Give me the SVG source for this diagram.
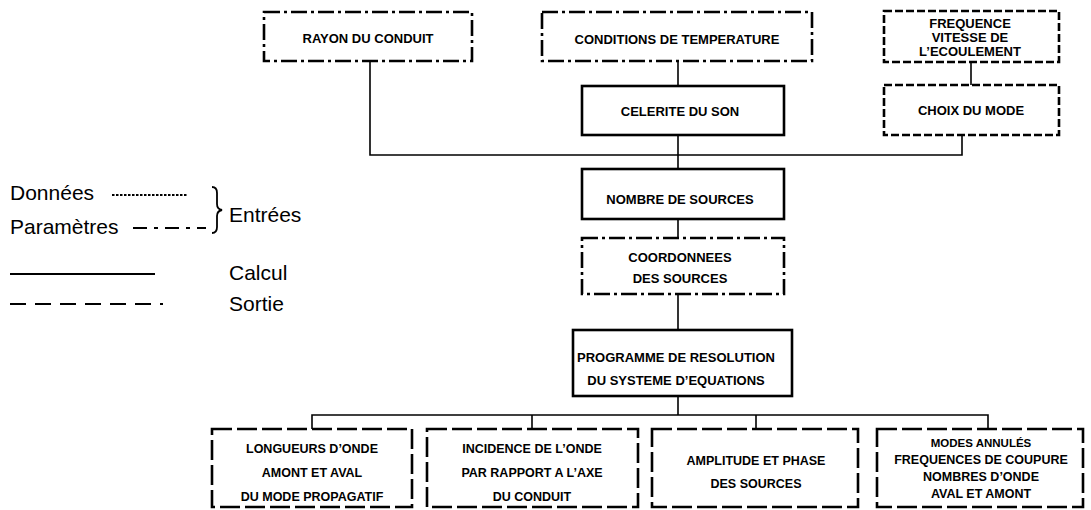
<svg xmlns="http://www.w3.org/2000/svg" width="1091" height="510" viewBox="0 0 1091 510">
<style>
.bg{fill:#ffffff}
.box{fill:#ffffff;stroke:#000;stroke-width:2.6}
.param{stroke-dasharray:16 4 3 4}
.data{stroke-dasharray:8 3}
.out{stroke-dasharray:20 5}
.conn{fill:none;stroke:#000;stroke-width:1.6}
.t{font-family:"Liberation Sans",Arial,sans-serif;font-weight:bold;font-size:13px;text-anchor:middle;fill:#000}
.ts{font-size:12.5px}
.tx{font-size:11.5px}
.leg{font-family:"Liberation Sans",Arial,sans-serif;font-size:21px;fill:#000}
.ll{fill:none;stroke:#000;stroke-width:1.8}
</style>
<rect class="bg" x="0" y="0" width="1091" height="510"/>

<g id="connectors">
<path class="conn" d="M370 61 V155 H962 V135"/>
<path class="conn" d="M678 61 V86"/>
<path class="conn" d="M678 135 V169"/>
<path class="conn" d="M678 219 V238"/>
<path class="conn" d="M678 294 V330"/>
<path class="conn" d="M971 62 V85"/>
<path class="conn" d="M678 396 V415"/>
<path class="conn" d="M312 429 V415 H988 V429"/>
<path class="conn" d="M532 415 V429"/>
<path class="conn" d="M756 415 V429"/>
</g>

<g id="rayon">
<rect class="box param" x="264" y="12" width="208" height="49"/>
<text class="t" x="368" y="43">RAYON DU CONDUIT</text>
</g>
<g id="conditions">
<rect class="box param" x="542" y="12" width="270" height="49"/>
<text class="t" x="677" y="44">CONDITIONS DE TEMPERATURE</text>
</g>
<g id="frequence">
<rect class="box data" x="884" y="11" width="175" height="51"/>
<text class="t" x="970" y="28">FREQUENCE</text>
<text class="t" x="970" y="42">VITESSE DE</text>
<text class="t" x="970" y="56">L’ECOULEMENT</text>
</g>
<g id="choix">
<rect class="box data" x="884" y="85" width="175" height="50"/>
<text class="t" x="971" y="115">CHOIX DU MODE</text>
</g>
<g id="celerite">
<rect class="box" x="582" y="86" width="202" height="49"/>
<text class="t" x="680" y="116">CELERITE DU SON</text>
</g>
<g id="nombre">
<rect class="box" x="582" y="169" width="202" height="50"/>
<text class="t" x="680" y="204">NOMBRE DE SOURCES</text>
</g>
<g id="coordonnees">
<rect class="box param" x="582" y="238" width="202" height="56"/>
<text class="t" x="680" y="262">COORDONNEES</text>
<text class="t" x="680" y="283">DES SOURCES</text>
</g>
<g id="programme">
<rect class="box" x="573" y="330" width="219" height="66"/>
<text class="t" x="676" y="362">PROGRAMME DE RESOLUTION</text>
<text class="t" x="676" y="385">DU SYSTEME D’EQUATIONS</text>
</g>
<g id="longueurs">
<rect class="box out" x="212" y="429" width="200" height="78"/>
<text class="t ts" x="312" y="453">LONGUEURS D’ONDE</text>
<text class="t ts" x="312" y="477">AMONT ET AVAL</text>
<text class="t ts" x="312" y="501">DU MODE PROPAGATIF</text>
</g>
<g id="incidence">
<rect class="box out" x="427" y="429" width="211" height="78"/>
<text class="t ts" x="532" y="453">INCIDENCE DE L’ONDE</text>
<text class="t ts" x="532" y="477">PAR RAPPORT A L’AXE</text>
<text class="t ts" x="532" y="501">DU CONDUIT</text>
</g>
<g id="amplitude">
<rect class="box out" x="652" y="429" width="206" height="78"/>
<text class="t ts" x="756" y="465">AMPLITUDE ET PHASE</text>
<text class="t ts" x="756" y="488">DES SOURCES</text>
</g>
<g id="modes">
<rect class="box out" x="877" y="429" width="206" height="78"/>
<text class="t tx" x="981" y="447">MODES ANNULÉS</text>
<text class="t ts" x="981" y="464">FREQUENCES DE COUPURE</text>
<text class="t ts" x="981" y="481">NOMBRES D’ONDE</text>
<text class="t ts" x="981" y="498">AVAL ET AMONT</text>
</g>

<g id="legend">
<text class="leg" x="10" y="200">Données</text>
<line class="ll" x1="112" y1="195" x2="188" y2="195" stroke-width="1.2" stroke-dasharray="2.5 1.5"/>
<text class="leg" x="10" y="234">Paramètres</text>
<line class="ll" x1="133" y1="228" x2="206" y2="228" stroke-dasharray="14 7 4 7"/>
<path d="M212 187 q5 0 5 6 v11 q0 5 5 6 q-5 1 -5 6 v11 q0 6 -5 6" fill="none" stroke="#000" stroke-width="1.8"/>
<text class="leg" x="229" y="222">Entrées</text>
<line class="ll" x1="10" y1="274" x2="155" y2="274"/>
<text class="leg" x="229" y="280">Calcul</text>
<line class="ll" x1="10" y1="304" x2="163" y2="304" stroke-dasharray="16 9"/>
<text class="leg" x="229" y="311">Sortie</text>
</g>
</svg>
